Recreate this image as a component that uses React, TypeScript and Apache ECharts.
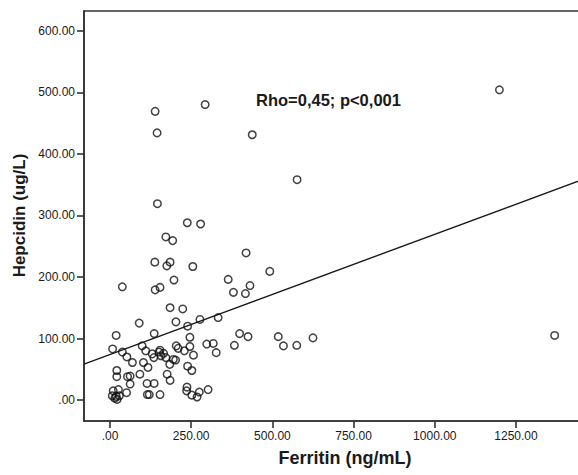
import React, { useEffect, useRef } from "react";
import * as echarts from "echarts";

// Scatter data: [Ferritin (ng/mL), Hepcidin (ug/L)]
const ferritin: number[] = [
  139, 145, 293, 438, 576, 1199, 146, 238, 279, 172, 193, 138, 185, 175, 255, 419, 492, 38, 139, 154,
  197, 364, 380, 431, 417, 185, 224, 90, 203, 277, 333, 239, 19, 136, 246, 399, 425, 518, 534, 575,
  625, 1369, 383, 298, 318, 327, 8, 38, 52, 69, 99, 110, 130, 151, 154, 135, 172, 204, 210, 229,
  246, 257, 195, 202, 184, 103, 117, 21, 21, 54, 62, 92, 176, 239, 252, 185, 62, 114, 136, 26,
  10, 51, 7, 19, 22, 115, 121, 154, 237, 236, 252, 268, 275, 302, 157, 165, 29, 15,
];
const hepcidin: number[] = [
  469, 434, 480, 431, 358, 504, 319, 288, 286, 265, 259, 224, 224, 218, 217, 239, 209, 184, 179, 183,
  195, 196, 175, 186, 173, 150, 148, 125, 127, 131, 134, 120, 105, 108, 102, 108, 103, 103, 88, 89,
  101, 105, 89, 91, 92, 77, 83, 78, 70, 61, 88, 80, 75, 78, 81, 69, 69, 88, 84, 80,
  87, 73, 66, 65, 58, 61, 53, 48, 38, 38, 39, 42, 42, 55, 48, 32, 26, 27, 27, 17,
  15, 12, 7, 6, 1, 9, 9, 9, 21, 15, 8, 5, 13, 17, 72, 76, 7, 3,
];

// Fit line end points
const fitX: number[] = [-80, 1480];
const fitY: number[] = [58.4, 363];

const xTicks: number[] = [0, 250, 500, 750, 1000, 1250];
const xTickLabels: string[] = [".00", "250.00", "500.00", "750.00", "1000.00", "1250.00"];
const yTicks: number[] = [0, 100, 200, 300, 400, 500, 600];
const yTickLabels: string[] = [".00", "100.00", "200.00", "300.00", "400.00", "500.00", "600.00"];

const annotation = "Rho=0,45; p<0,001";
const xTitle = "Ferritin (ng/mL)";
const yTitle = "Hepcidin (ug/L)";

export default function App() {
  const ref = useRef<HTMLDivElement>(null);
  useEffect(() => {
    if (!ref.current) return;
    const chart = echarts.init(ref.current, undefined, { renderer: "svg" });
    const font = "Arial, 'Liberation Sans', Helvetica, sans-serif";
    const axisColor = "#333333";
    const scatterData = ferritin.map((x, i) => [x, hepcidin[i]]);
    const lineData = fitX.map((x, i) => [x, fitY[i]]);
    chart.setOption({
      animation: false,
      backgroundColor: "#ffffff",
      grid: {
        left: 84,
        top: 11,
        width: 506.7,
        height: 410,
        show: true,
        borderColor: axisColor,
        borderWidth: 1.6,
        containLabel: false,
      },
      xAxis: {
        type: "value",
        min: -80,
        max: 1480,
        axisLine: { show: true, onZero: false, lineStyle: { color: axisColor, width: 1.6 } },
        axisTick: { show: true, customValues: xTicks, length: 7, lineStyle: { color: axisColor, width: 1.6 } },
        axisLabel: {
          customValues: xTicks,
          margin: 9,
          color: "#1a1a1a",
          fontFamily: font,
          fontSize: 12,
          formatter: (v: number) => {
            const i = xTicks.indexOf(v);
            return i >= 0 ? xTickLabels[i] : "";
          },
        },
        splitLine: { show: false },
      },
      yAxis: {
        type: "value",
        min: -34,
        max: 632,
        axisLine: { show: true, onZero: false, lineStyle: { color: axisColor, width: 1.6 } },
        axisTick: { show: true, customValues: yTicks, length: 7, lineStyle: { color: axisColor, width: 1.6 } },
        axisLabel: {
          customValues: yTicks,
          margin: 9,
          color: "#1a1a1a",
          fontFamily: font,
          fontSize: 12,
          formatter: (v: number) => {
            const i = yTicks.indexOf(v);
            return i >= 0 ? yTickLabels[i] : "";
          },
        },
        splitLine: { show: false },
      },
      graphic: [
        {
          type: "text",
          left: 256,
          top: 91,
          style: {
            text: annotation,
            fontFamily: font,
            fontWeight: "bold",
            fontSize: 16.5,
            fill: "#1a1a1a",
          },
        },
        {
          type: "text",
          x: 345,
          y: 458,
          style: {
            text: xTitle,
            fontFamily: font,
            fontWeight: "bold",
            fontSize: 18,
            fill: "#1a1a1a",
            align: "center",
            verticalAlign: "middle",
          },
        },
        {
          type: "text",
          x: 19,
          y: 215.5,
          rotation: Math.PI / 2,
          style: {
            text: yTitle,
            fontFamily: font,
            fontWeight: "bold",
            fontSize: 17,
            fill: "#1a1a1a",
            align: "center",
            verticalAlign: "middle",
          },
        },
      ],
      series: [
        {
          type: "line",
          data: lineData,
          symbol: "none",
          lineStyle: { color: "#1a1a1a", width: 1.4 },
          silent: true,
        },
        {
          type: "scatter",
          data: scatterData,
          symbol: "circle",
          symbolSize: 7.5,
          itemStyle: { color: "rgba(255,255,255,0)", borderColor: "#111111", borderWidth: 1.5 },
        },
      ],
    });
    return () => chart.dispose();
  }, []);
  return (
    <div style={{ position: "fixed", left: 0, top: 0, width: 578, height: 475, overflow: "hidden", background: "#fff" }}>
      <div ref={ref} style={{ width: 600, height: 475 }} />
    </div>
  );
}
